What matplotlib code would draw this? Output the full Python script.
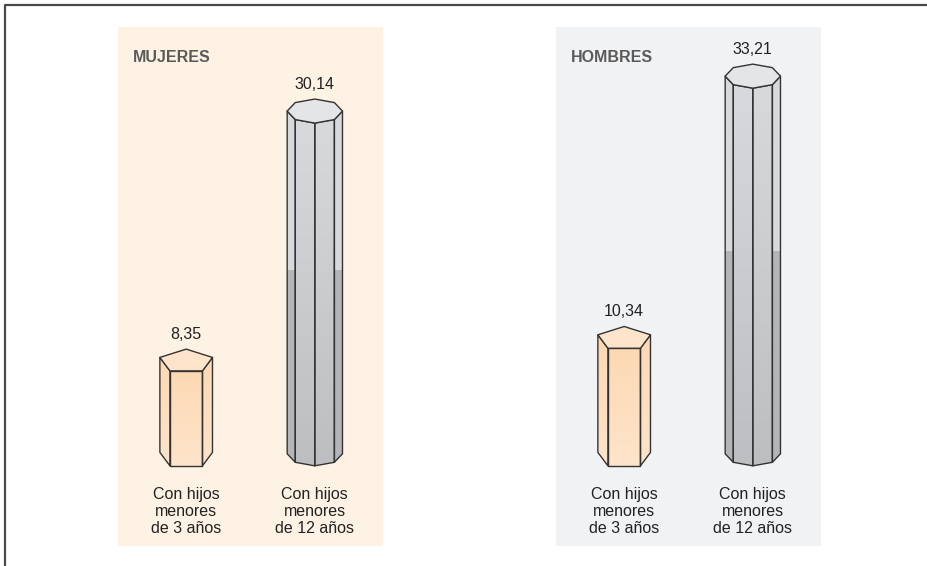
import numpy as np
import matplotlib
matplotlib.use("Agg")
import matplotlib.pyplot as plt
from matplotlib.patches import Polygon
from matplotlib.lines import Line2D
from matplotlib.colors import LinearSegmentedColormap

plt.rcParams["font.family"] = ["Liberation Sans", "DejaVu Sans"]

# ----- data -----
panels = ["MUJERES", "HOMBRES"]
categories = ["Con hijos\nmenores\nde 3 años", "Con hijos\nmenores\nde 12 años"]
mujeres = [8.35, 30.14]
hombres = [10.34, 33.21]
labels_mujeres = ["8,35", "30,14"]
labels_hombres = ["10,34", "33,21"]

# ----- styles -----
panel_bg = ["#fdf2e4", "#f1f2f4"]
edge = "#333333"
peach = ["#fcd9b4", "#fee4ca"]
grey_top = "#e4e5e7"
grey_body = ["#d8d9dc", "#b4b5b8"]
W, H = 927, 566
PX_PER_UNIT = 11.35       # pixels per data unit on y
RX = 0.215                # prism radius in x units
RY = 12 / PX_PER_UNIT     # ellipse radius in y units
YMIN, YMAX = -7.05, 38.59
XMIN, XMAX = -0.53, 1.53


def gradient_face(ax, verts, c_top, c_bot, zorder):
    """ polygon s vertikalnim prechodem barev """
    poly = Polygon(verts, closed=True, facecolor="none", edgecolor=edge,
                   linewidth=1.0, zorder=zorder + 0.5, joinstyle="round")
    ax.add_patch(poly)
    xs, ys = verts[:, 0], verts[:, 1]
    cmap = LinearSegmentedColormap.from_list("g", [c_bot, c_top])
    grad = np.linspace(0, 1, 64).reshape(-1, 1)
    im = ax.imshow(grad, cmap=cmap, origin="lower", aspect="auto",
                   extent=(xs.min(), xs.max(), ys.min(), ys.max()),
                   zorder=zorder, interpolation="bilinear")
    im.set_clip_path(poly)
    return poly


def prism(ax, cx, value, nsides):
    """ hranol s n stenami, predni hrana na vysce value """
    if nsides == 5:
        ang = np.deg2rad(90 + 72 * np.arange(5))
    else:
        ang = np.deg2rad(270 + 45 * np.arange(8))
    front = -np.sin(ang).min()
    yc_top = value + front * RY
    yc_bot = front * RY
    xs = cx + RX * np.cos(ang)
    top = yc_top + RY * np.sin(ang)
    bot = yc_bot + RY * np.sin(ang)
    n = len(ang)
    for i in range(n):
        j = (i + 1) % n
        mid = np.arctan2(np.sin(ang[i]) + np.sin(ang[j]),
                         np.cos(ang[i]) + np.cos(ang[j]))
        if np.sin(mid) >= -1e-9:
            continue  # zadni stena neni videt
        verts = np.array([[xs[i], top[i]], [xs[j], top[j]],
                          [xs[j], bot[j]], [xs[i], bot[i]]])
        if nsides == 5:
            gradient_face(ax, verts, peach[0], peach[1], 2)
        else:
            narrow = abs(np.cos(mid)) > 0.8
            if narrow:
                # uzke steny: svetle nahore, tmave dole (vodorovny predel)
                poly = gradient_face(ax, verts, grey_body[0], grey_body[0], 2)
                split = value * 0.57
                lo = min(verts[:, 1])
                r = ax.fill_between([verts[:, 0].min(), verts[:, 0].max()],
                                    lo, split, color=grey_body[1],
                                    linewidth=0, zorder=2.2)
                r.set_clip_path(poly)
            else:
                gradient_face(ax, verts, grey_body[0], "#bdbec1", 2)
    cap = np.column_stack([xs, top])
    ax.add_patch(Polygon(cap, closed=True,
                         facecolor=peach[1] if nsides == 5 else grey_top,
                         edgecolor=edge, linewidth=1.0, zorder=3,
                         joinstyle="round"))
    return yc_top + RY


fig = plt.figure(figsize=(W / 100, H / 100), dpi=100)

# ramecek vlevo a nahore
fig.add_artist(Line2D([4.5 / W, 4.5 / W, 1], [0, 1 - 4.5 / H, 1 - 4.5 / H],
                      color="#4a4a4a", linewidth=1.6))

panel_px = [(118, 383), (556, 821)]
series = [mujeres, hombres]
texts = [labels_mujeres, labels_hombres]

for k, name in enumerate(panels):
    x0, x1 = panel_px[k]
    ax = fig.add_axes([x0 / W, (H - 546) / H, (x1 - x0) / W, (546 - 27) / H])
    ax.set_facecolor(panel_bg[k])
    for s in ax.spines.values():
        s.set_visible(False)
    ax.set_xticks([])
    ax.set_yticks([])

    for i, v in enumerate(series[k]):
        top = prism(ax, i, v, 5 if i == 0 else 8)
        ax.annotate(texts[k][i], (i, top), xytext=(0, 7.5),
                    textcoords="offset points", ha="center", va="baseline",
                    fontsize=11.5, color="#222222")
        ax.annotate(categories[i], (i, 0), xytext=(0, -15.5),
                    textcoords="offset points", ha="center", va="top",
                    fontsize=11.5, color="#222222", linespacing=1.17)

    ax.text(0.057, 0.942, name, transform=ax.transAxes, ha="left",
            va="center", fontsize=11.5, fontweight="bold", color="#5a5a5a")
    ax.set_xlim(XMIN, XMAX)
    ax.set_ylim(YMIN, YMAX)

fig.savefig("out.png", dpi=100)
